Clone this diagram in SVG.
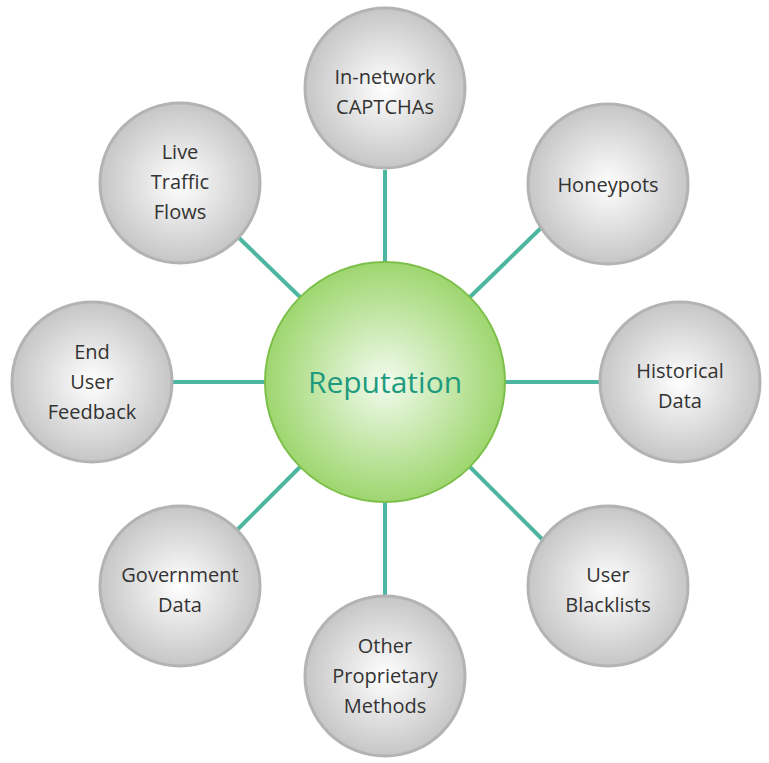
<svg xmlns="http://www.w3.org/2000/svg" width="769" height="763" viewBox="0 0 769 763">
<defs>
<radialGradient id="g" cx="50%" cy="50%" r="50%"><stop offset="0" stop-color="#ffffff"/><stop offset="1" stop-color="#c6c6c6"/></radialGradient>
<radialGradient id="c" cx="50%" cy="50%" r="50%"><stop offset="0" stop-color="#f2fbee"/><stop offset="1" stop-color="#9ed66f"/></radialGradient>
<style>
.s{fill:url(#g);stroke:#b3b3b3;stroke-width:3}
.t{font-family:"Open Sans",sans-serif;font-size:20px;fill:#333;text-anchor:middle}
.l{stroke:#4db6a0;stroke-width:4}
</style>
</defs>
<rect width="769" height="763" fill="#fff"/>
<g id="connectors">
<line class="l" x1="385" y1="170" x2="385" y2="262"/>
<line class="l" x1="470" y1="297" x2="543" y2="226"/>
<line class="l" x1="505" y1="382" x2="599" y2="382"/>
<line class="l" x1="470" y1="467" x2="543" y2="540"/>
<line class="l" x1="385" y1="502" x2="385" y2="596"/>
<line class="l" x1="300" y1="467" x2="237" y2="530"/>
<line class="l" x1="265" y1="382" x2="173" y2="382"/>
<line class="l" x1="300" y1="297" x2="237" y2="236"/>
</g>
<g id="center"><circle cx="385" cy="382" r="120" fill="url(#c)" stroke="#7cc04a" stroke-width="2"/><text x="385" y="393" style="font-family:'Open Sans',sans-serif;font-size:30px;fill:#1e9a7e;text-anchor:middle">Reputation</text></g>
<g id="n1"><circle class="s" cx="385" cy="88" r="80"/><text class="t" x="385" y="84">In-network</text><text class="t" x="385" y="114">CAPTCHAs</text></g>
<g id="n2"><circle class="s" cx="608" cy="184" r="80"/><text class="t" x="608" y="192">Honeypots</text></g>
<g id="n3"><circle class="s" cx="680" cy="382" r="80"/><text class="t" x="680" y="378">Historical</text><text class="t" x="680" y="408">Data</text></g>
<g id="n4"><circle class="s" cx="608" cy="586" r="80"/><text class="t" x="608" y="582">User</text><text class="t" x="608" y="612">Blacklists</text></g>
<g id="n5"><circle class="s" cx="385" cy="676" r="80"/><text class="t" x="385" y="653">Other</text><text class="t" x="385" y="683">Proprietary</text><text class="t" x="385" y="713">Methods</text></g>
<g id="n6"><circle class="s" cx="180" cy="586" r="80"/><text class="t" x="180" y="582">Government</text><text class="t" x="180" y="612">Data</text></g>
<g id="n7"><circle class="s" cx="92" cy="382" r="80"/><text class="t" x="92" y="359">End</text><text class="t" x="92" y="389">User</text><text class="t" x="92" y="419">Feedback</text></g>
<g id="n8"><circle class="s" cx="180" cy="183" r="80"/><text class="t" x="180" y="159">Live</text><text class="t" x="180" y="189">Traffic</text><text class="t" x="180" y="219">Flows</text></g>
</svg>
